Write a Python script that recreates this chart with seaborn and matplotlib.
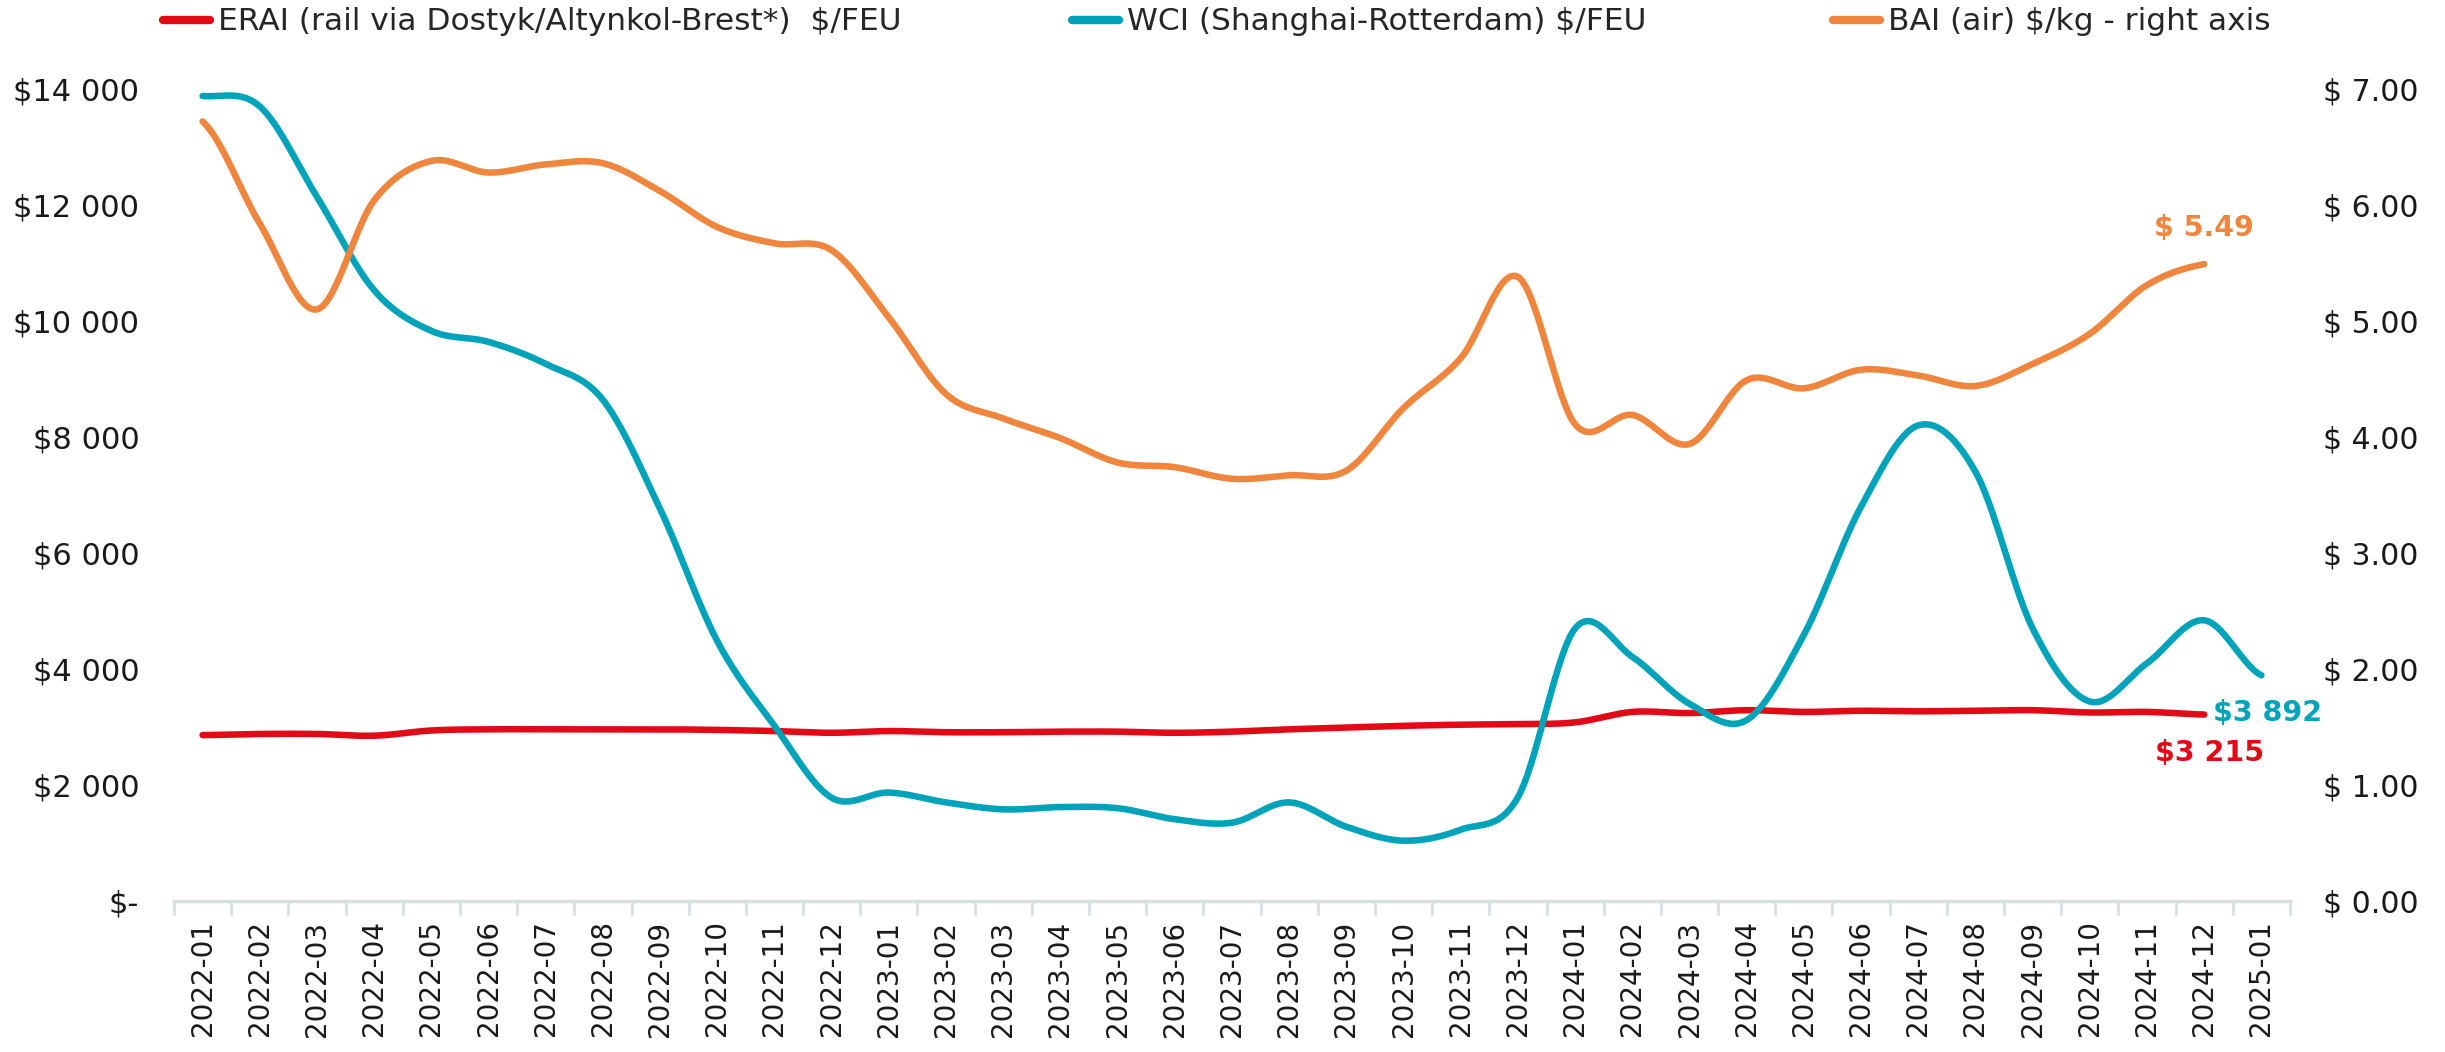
import numpy as np
import pandas as pd
import matplotlib
matplotlib.use("Agg")
import matplotlib.pyplot as plt
from matplotlib.lines import Line2D
from matplotlib.ticker import FuncFormatter, MultipleLocator, FixedLocator
import seaborn as sns

# ---------------- data ----------------
categories = [f"{y}-{m:02d}" for y in (2022, 2023, 2024) for m in range(1, 13)] + ["2025-01"]

erai = [2860, 2880, 2880, 2850, 2940, 2960, 2960, 2960, 2960, 2950, 2930, 2900,
        2930, 2910, 2910, 2920, 2920, 2900, 2920, 2960, 2990, 3020, 3040, 3050,
        3080, 3260, 3240, 3290, 3260, 3280, 3270, 3280, 3290, 3250, 3260, 3215]

wci = [13880, 13700, 12140, 10530, 9830, 9640, 9260, 8640, 6760, 4480, 3020, 1780,
       1870, 1700, 1580, 1620, 1600, 1410, 1350, 1700, 1280, 1040, 1230, 1790,
       4700, 4210, 3400, 3120, 4590, 6800, 8200, 7400, 4700, 3440, 4100, 4840, 3892]

bai = [6.72, 5.84, 5.10, 6.04, 6.38, 6.28, 6.35, 6.36, 6.12, 5.81, 5.67, 5.61,
       5.03, 4.37, 4.16, 3.99, 3.78, 3.74, 3.64, 3.67, 3.71, 4.25, 4.68, 5.38,
       4.11, 4.19, 3.94, 4.49, 4.42, 4.58, 4.53, 4.44, 4.63, 4.89, 5.31, 5.49]

labels = ["ERAI (rail via Dostyk/Altynkol-Brest*)  $/FEU",
          "WCI (Shanghai-Rotterdam) $/FEU",
          "BAI (air) $/kg - right axis"]

RED = "#E30A17"
TEAL = "#00A3BA"
ORANGE = "#F0863E"
TXT = "#1A1A1A"


def smooth(vals, n=30):
    """Excel-like smoothed line (Catmull-Rom) through the monthly points."""
    p = np.asarray(vals, float)
    pp = np.concatenate([[p[0]], p, [p[-1]]])
    xs, ys = [], []
    t = np.linspace(0, 1, n, endpoint=False)
    for i in range(len(p) - 1):
        p0, p1, p2, p3 = pp[i], pp[i + 1], pp[i + 2], pp[i + 3]
        ys.append(0.5 * (2 * p1 + (-p0 + p2) * t + (2 * p0 - 5 * p1 + 4 * p2 - p3) * t ** 2
                         + (-p0 + 3 * p1 - 3 * p2 + p3) * t ** 3))
        xs.append(i + t)
    xs.append([len(p) - 1])
    ys.append([p[-1]])
    return pd.DataFrame({"x": np.concatenate(xs), "y": np.concatenate(ys)})


sns.set_theme(style="white")
plt.rcParams["font.family"] = ["DejaVu Sans"]

fig = plt.figure(figsize=(24.45, 10.52), dpi=100)
ax = fig.add_axes([174 / 2445, 1 - 901 / 1052, (2290 - 174) / 2445, (901 - 89) / 1052])
ax2 = ax.twinx()

LW = 4.7
sns.lineplot(data=smooth(erai), x="x", y="y", ax=ax, color=RED, lw=LW, solid_capstyle="round", zorder=3)
sns.lineplot(data=smooth(wci), x="x", y="y", ax=ax, color=TEAL, lw=LW, solid_capstyle="round", zorder=4)
sns.lineplot(data=smooth(bai), x="x", y="y", ax=ax2, color=ORANGE, lw=LW, solid_capstyle="round", zorder=3)

# axes limits & ticks
ax.set_xlim(-0.5, len(categories) - 0.5)
ax.set_ylim(0, 14000)
ax2.set_ylim(0, 7)
ax.yaxis.set_major_locator(MultipleLocator(2000))
ax2.yaxis.set_major_locator(MultipleLocator(1))


def left_fmt(v, pos):
    if abs(v) < 1e-9:
        return "$-"
    return "$" + f"{int(round(v)):,}".replace(",", " ")


ax.yaxis.set_major_formatter(FuncFormatter(left_fmt))
ax2.yaxis.set_major_formatter(FuncFormatter(lambda v, p: f"$ {v:.2f}"))

ax.set_xticks(range(len(categories)))
ax.set_xticklabels(categories, rotation=90, fontsize=20, color=TXT)
ax.xaxis.set_minor_locator(FixedLocator(np.arange(-0.5, len(categories), 1.0)))
ax.tick_params(axis="x", which="major", length=0, pad=14)
ax.tick_params(axis="x", which="minor", length=10, width=2, color="#D6DFE1", bottom=True)
ax.tick_params(axis="y", length=0, pad=25, labelsize=22, labelcolor=TXT)
ax2.tick_params(axis="y", length=0, pad=24, labelsize=21.5, labelcolor=TXT)
for lab in ax2.get_yticklabels():
    lab.set_ha("left")

for a in (ax, ax2):
    for s in ("top", "left", "right", "bottom"):
        a.spines[s].set_visible(False)
    a.set_xlabel("")
    a.set_ylabel("")
    a.grid(False)
ax.spines["bottom"].set_visible(True)
ax.spines["bottom"].set_color("#D6DFE1")
ax.spines["bottom"].set_linewidth(2.5)
ax.spines["bottom"].set_zorder(0)

# end-value labels
ax2.annotate(f"$ {bai[-1]:.2f}", xy=(len(bai) - 1, bai[-1]), xytext=(0, 26),
             textcoords="offset points", ha="center", va="center",
             fontsize=20.5, fontweight="bold", color=ORANGE)
ax.annotate("$" + f"{wci[-1]:,}".replace(",", " "), xy=(len(wci) - 1, wci[-1]), xytext=(-35, -27),
            textcoords="offset points", ha="left", va="center",
            fontsize=20.5, fontweight="bold", color=TEAL)
ax.annotate("$" + f"{erai[-1]:,}".replace(",", " "), xy=(len(erai) - 1, erai[-1]), xytext=(4, -28),
            textcoords="offset points", ha="center", va="center",
            fontsize=20.5, fontweight="bold", color=RED)

# legend (three entries placed across the top)
for lab, col, xpx in zip(labels, [RED, TEAL, ORANGE], [163, 1072, 1833]):
    h = Line2D([0], [0], color=col, lw=6, solid_capstyle="round")
    fig.legend([h], [lab], loc="center left", bbox_to_anchor=(xpx / 2445, 1 - 22 / 1052),
               frameon=False, borderpad=0, borderaxespad=0, handlelength=1.5,
               handletextpad=0.26, prop={"family": ["DejaVu Sans"], "size": 22.5})

fig.savefig("out.png", dpi=100, facecolor="white")
